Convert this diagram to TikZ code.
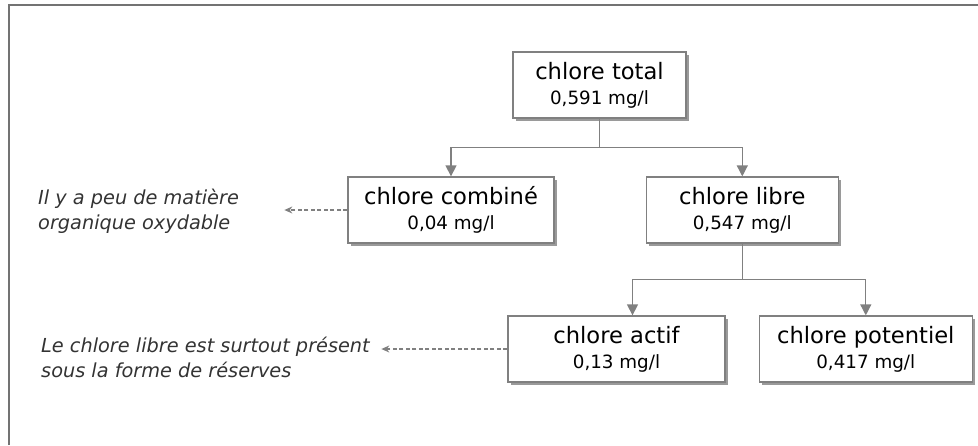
\documentclass[tikz,border=0pt]{standalone}
\usepackage{fontspec}
\setmainfont{DejaVu Sans}
\usepackage{xcolor}
\usepackage{tikz}
\usetikzlibrary{arrows.meta, positioning, shadows}

\definecolor{linegray}{HTML}{808080}
\definecolor{shadowgray}{HTML}{9A9A9A}
\definecolor{notegray}{HTML}{333333}

\begin{document}
\begin{tikzpicture}[x=1pt, y=-1pt, >={Triangle[length=11pt,width=11pt]}]
        \tikzset{
            chlorbox/.style={draw=linegray, fill=white, rectangle, line width=1.3pt, minimum height=66pt, align=center, inner sep=2pt, font=\fontsize{18.3}{25}\selectfont, drop shadow={shadow xshift=2.5pt, shadow yshift=-2.5pt, fill=shadowgray, opacity=1}},
            notetext/.style={anchor=west, align=left, inner sep=0pt, text=notegray, font=\fontsize{19.3}{25}\selectfont\itshape},
            flow/.style={draw=linegray, line width=1.3pt, ->},
            noteflow/.style={draw=linegray, line width=1.2pt, dashed, dash pattern=on 4pt off 2.5pt, -{Stealth[length=8pt,width=7pt]}}
        }
        \useasboundingbox (0,0) rectangle (978,445);
        \draw[draw=linegray!90!black, line width=2pt] (8.5,445) -- (8.5,4.5) -- (978,4.5);

        \node [chlorbox, minimum width=173pt] (total) at (599.5,85) {{\fontsize{22.6}{25}\selectfont chlore total}\\0,591 mg/l};
        \node [chlorbox, minimum width=206pt] (combine) at (451,210) {{\fontsize{22.6}{25}\selectfont chlore combiné}\\0,04 mg/l};
        \node [chlorbox, minimum width=192pt, right=91pt of combine] (libre) {{\fontsize{22.6}{25}\selectfont chlore libre}\\0,547 mg/l};
        \node [chlorbox, minimum width=217pt] (actif) at (616.5,349) {{\fontsize{22.6}{25}\selectfont chlore actif}\\0,13 mg/l};
        \node [chlorbox, minimum width=213pt, right=33pt of actif] (potentiel) {{\fontsize{22.6}{25}\selectfont chlore potentiel}\\0,417 mg/l};

        \node [notetext] (note1) at (38,211) {Il y a peu de matière\\organique oxydable};
        \node [notetext] (note2) at (41,357) {Le chlore libre est surtout présent\\sous la forme de réserves};

        \draw [flow] (total.south) -- ++(0,29) -| (combine.north);
        \draw [flow] (total.south) -- ++(0,29) -| (libre.north);
        \draw [flow] (libre.south) -- ++(0,36) -| ([xshift=16pt]actif.north);
        \draw [flow] (libre.south) -- ++(0,36) -| (potentiel.north);

        \draw [noteflow] (combine.west) -- ([xshift=-63pt]combine.west);
        \draw [noteflow] (actif.west) -- ([xshift=-126pt]actif.west);
    \end{tikzpicture}
\end{document}
